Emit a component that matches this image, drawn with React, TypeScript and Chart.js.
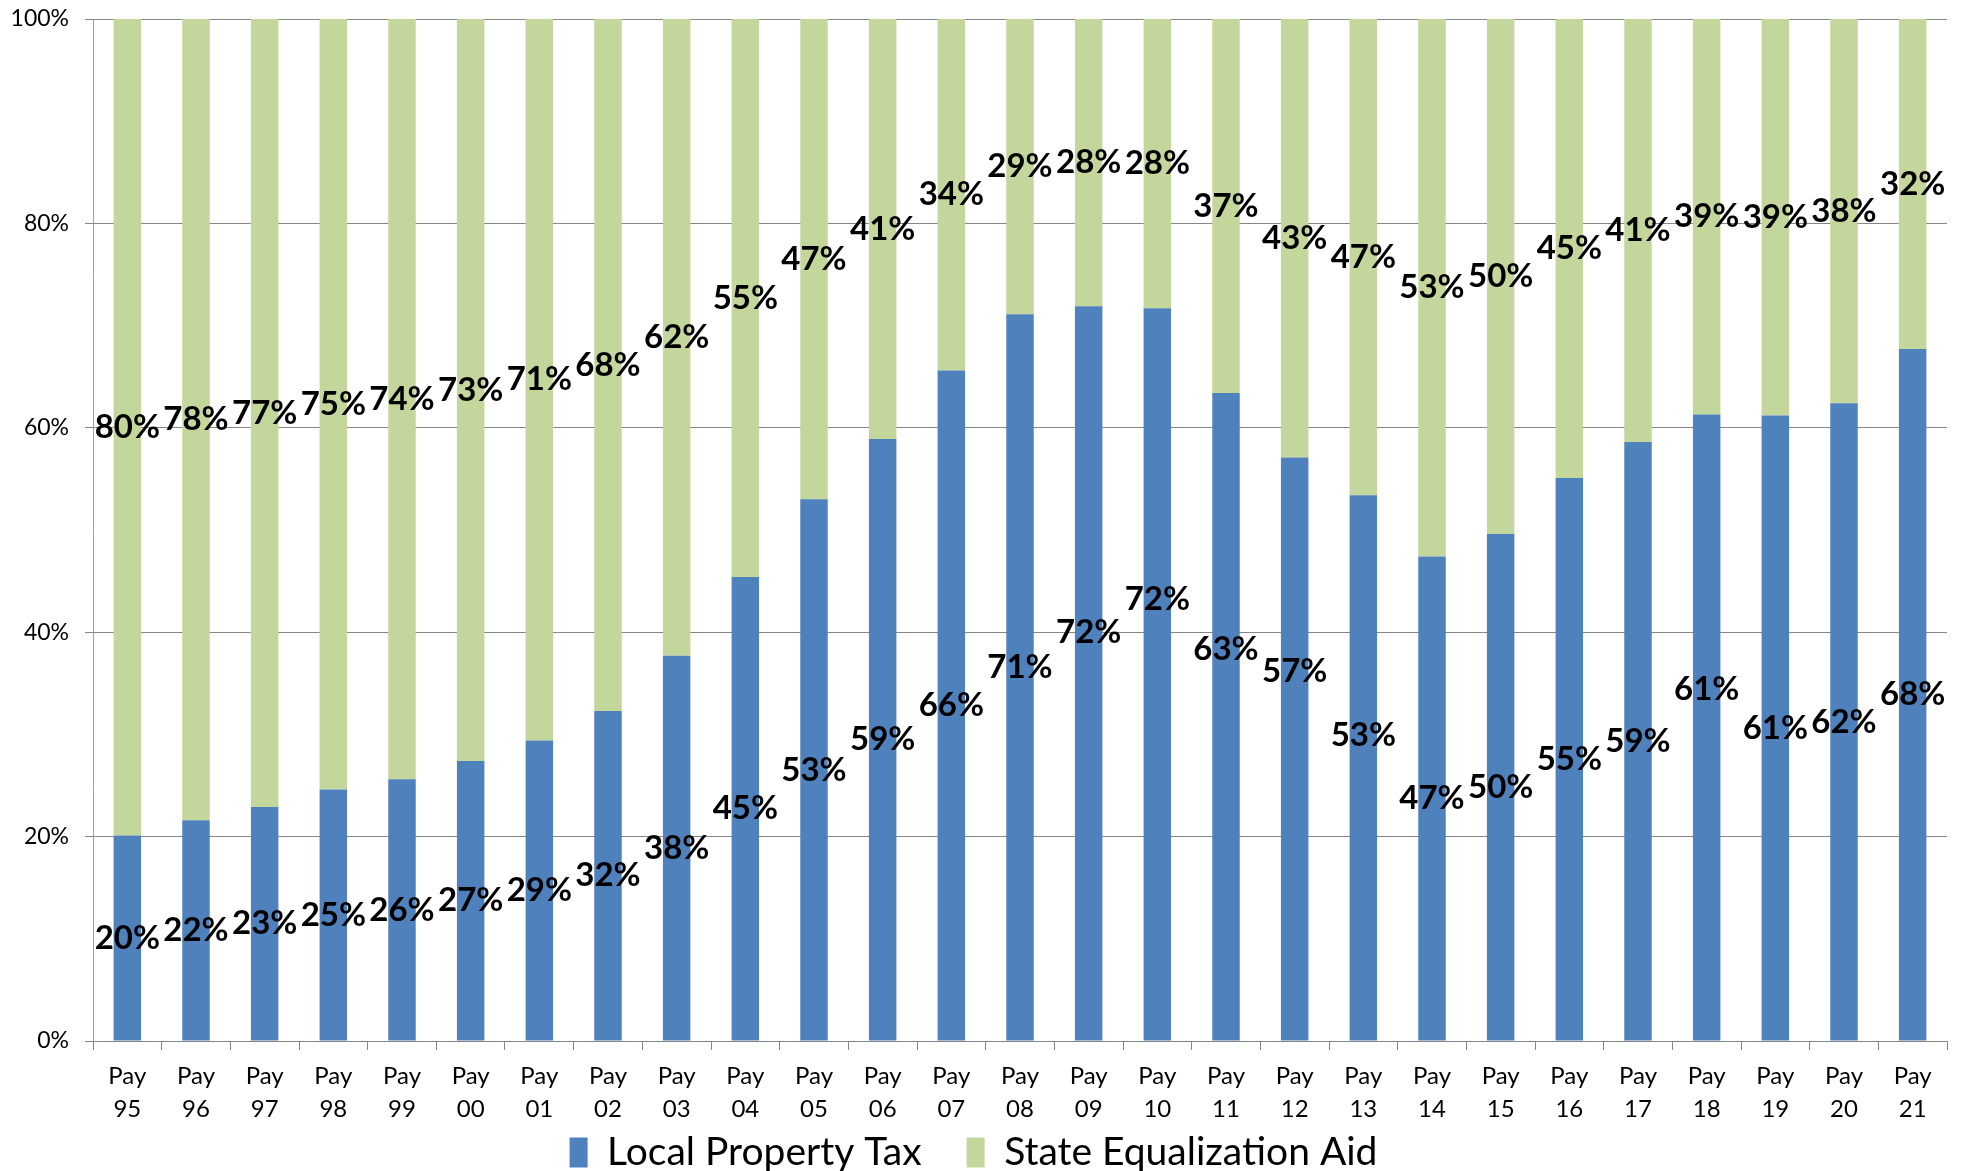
import React, { useEffect, useRef } from 'react';
import { Chart, registerables } from 'chart.js';

Chart.register(...registerables);

const yearCodes = ['95', '96', '97', '98', '99', '00', '01', '02', '03', '04', '05', '06', '07', '08', '09', '10', '11', '12', '13', '14', '15', '16', '17', '18', '19', '20', '21'];
const categories = yearCodes.map((y) => ['Pay', y]);

const localPropertyTax = [20.1, 21.6, 22.9, 24.6, 25.6, 27.4, 29.4, 32.3, 37.7, 45.4, 53.0, 58.9, 65.6, 71.1, 71.9, 71.7, 63.4, 57.1, 53.4, 47.4, 49.6, 55.1, 58.6, 61.3, 61.2, 62.4, 67.7];
const stateEqualizationAid = [79.9, 78.4, 77.1, 75.4, 74.4, 72.6, 70.6, 67.7, 62.3, 54.6, 47.0, 41.1, 34.4, 28.9, 28.1, 28.3, 36.6, 42.9, 46.6, 52.6, 50.4, 44.9, 41.4, 38.7, 38.8, 37.6, 32.3];

// label nudges (in percentage points) for the labels that were moved in the original
const localLabelShift = [0, 0, 0, 0, 0, 0, 0, 0, 0, 0, 0, 0, 0, 1.0, 4.0, 7.3, 6.6, 7.6, 3.2, 0, 0, 0, 0, 3.7, 0, 0, 0];
const stateLabelShift = [0, 0, 0, 0, 0, 0, 0, 0, 0, 0, 0, 0, 0, 0, 0, 0, 0, 0, 0, 0, 0, 0, 0, 0, 0, 0, 0];

const yTicks = [0, 20, 40, 60, 80, 100];

const FONT = 'Lato, "Open Sans", sans-serif';
const GRID = '#868686';
const LEGEND_PADDING = 45;
const LEGEND_ITEM_TOP = 1133;

const barLabels = {
  id: 'barLabels',
  afterDatasetsDraw(chart: any) {
    const ctx = chart.ctx;
    const yScale = chart.scales.y;
    const unit = yScale.getPixelForValue(0) - yScale.getPixelForValue(1);
    ctx.save();
    ctx.font = `bold 33px ${FONT}`;
    ctx.fillStyle = '#000000';
    ctx.textAlign = 'center';
    ctx.textBaseline = 'middle';
    chart.data.datasets.forEach((ds: any, di: number) => {
      const meta = chart.getDatasetMeta(di);
      const shifts: number[] = ds.labelShift || [];
      meta.data.forEach((bar: any, i: number) => {
        const v = ds.data[i];
        const mid = (bar.y + bar.base) / 2 - (shifts[i] || 0) * unit;
        ctx.fillText(`${Math.round(v)}%`, bar.x, mid);
      });
    });
    ctx.restore();
  },
};

// the legend keeps a wide gap between its items but sits close to the bottom edge
const legendPlacement = {
  id: 'legendPlacement',
  afterLayout(chart: any) {
    const lg = chart.legend;
    if (!lg) return;
    const dy = LEGEND_ITEM_TOP - (lg.top + LEGEND_PADDING);
    lg.top += dy;
    lg.height = lg.bottom - lg.top;
  },
};

export default function App() {
  const canvasRef = useRef<HTMLCanvasElement | null>(null);

  useEffect(() => {
    document.body.style.margin = '0';
    const canvas = canvasRef.current;
    if (!canvas) return;
    const chart = new Chart(canvas, {
      type: 'bar',
      data: {
        labels: categories,
        datasets: [
          {
            label: 'Local Property Tax',
            data: localPropertyTax,
            backgroundColor: '#4F81BD',
            borderWidth: 0,
            categoryPercentage: 1,
            barPercentage: 0.4,
            labelShift: localLabelShift,
          } as any,
          {
            label: 'State Equalization Aid',
            data: stateEqualizationAid,
            backgroundColor: '#C3D69B',
            borderWidth: 0,
            categoryPercentage: 1,
            barPercentage: 0.4,
            labelShift: stateLabelShift,
          } as any,
        ],
      },
      options: {
        responsive: false,
        animation: false,
        devicePixelRatio: 1,
        layout: { padding: { top: 19, right: 18, left: 0, bottom: 0 } },
        plugins: {
          legend: {
            position: 'bottom',
            maxHeight: 40,
            labels: {
              font: { family: FONT, size: 39 },
              color: '#000000',
              boxWidth: 18,
              boxHeight: 30,
              padding: LEGEND_PADDING,
            },
          },
          tooltip: { enabled: false },
        },
        scales: {
          x: {
            stacked: true,
            offset: true,
            grid: {
              display: true,
              drawOnChartArea: false,
              drawTicks: true,
              tickLength: 9,
              offset: true,
              color: GRID,
            },
            border: { display: true, color: GRID, width: 1 },
            ticks: {
              font: { family: FONT, size: 24, lineHeight: 1.38 },
              color: '#000000',
              padding: 10,
              maxRotation: 0,
              autoSkip: false,
            },
            afterFit: (s: any) => {
              s.height = 90;
            },
          },
          y: {
            stacked: true,
            min: 0,
            max: 100,
            afterBuildTicks: (s: any) => {
              s.ticks = yTicks.map((v) => ({ value: v }));
            },
            ticks: {
              font: { family: FONT, size: 23 },
              color: '#000000',
              padding: 16,
              callback: (v: any) => `${v}%`,
            },
            grid: { color: GRID, tickLength: 8, lineWidth: 1 },
            border: { display: true, color: '#A0A0A0', width: 1 },
            afterFit: (s: any) => {
              s.width = 93;
              s.paddingTop = 0;
              s.paddingBottom = 0;
            },
          },
        },
      },
      plugins: [barLabels, legendPlacement],
    });
    return () => chart.destroy();
  }, []);

  return (
    <div style={{ width: 1965, height: 1171 }}>
      <canvas ref={canvasRef} width={1965} height={1171} style={{ display: 'block' }} />
    </div>
  );
}
